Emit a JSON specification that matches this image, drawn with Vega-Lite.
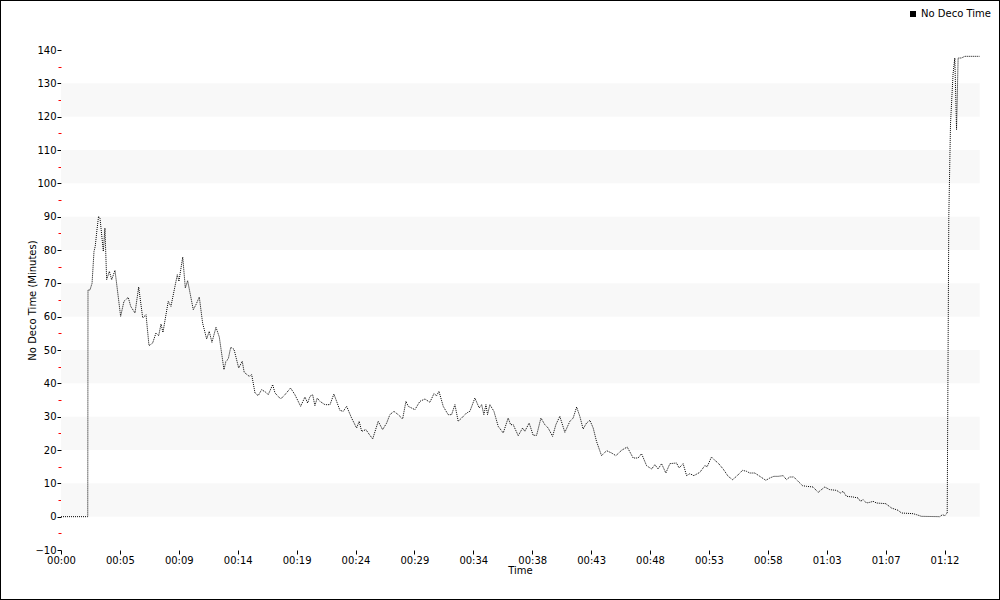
{
  "$schema": "https://vega.github.io/schema/vega-lite/v6.json",
  "width": 1000,
  "height": 600,
  "autosize": "none",
  "padding": 0,
  "background": "white",
  "config": {
    "view": {"stroke": "black", "strokeWidth": 2},
    "font": "DejaVu Sans",
    "axis": {"labelFont": "DejaVu Sans", "titleFont": "DejaVu Sans", "labelFontSize": 10, "titleFontSize": 10, "titleFontWeight": "normal", "labelColor": "black", "titleColor": "black"}
  },
  "resolve": {"axis": {"y": "independent"}},
  "datasets": {
    "ndl": [
      {"minutes": 0, "ndl": 0}, {"minutes": 2.18, "ndl": 0}, {"minutes": 2.2, "ndl": 68}, {"minutes": 2.36, "ndl": 68},
      {"minutes": 2.53, "ndl": 70}, {"minutes": 2.69, "ndl": 79.6}, {"minutes": 2.79, "ndl": 81.1}, {"minutes": 2.93, "ndl": 86},
      {"minutes": 3.06, "ndl": 90.1}, {"minutes": 3.18, "ndl": 89.5}, {"minutes": 3.45, "ndl": 79.6}, {"minutes": 3.58, "ndl": 86.6},
      {"minutes": 3.72, "ndl": 71.1}, {"minutes": 3.94, "ndl": 73.6}, {"minutes": 4.13, "ndl": 71.1}, {"minutes": 4.4, "ndl": 73.9},
      {"minutes": 4.86, "ndl": 60.1}, {"minutes": 5.13, "ndl": 64.6}, {"minutes": 5.48, "ndl": 65.8}, {"minutes": 5.68, "ndl": 63.1},
      {"minutes": 6.03, "ndl": 61.1}, {"minutes": 6.33, "ndl": 68.9}, {"minutes": 6.66, "ndl": 59.6}, {"minutes": 6.93, "ndl": 60.6},
      {"minutes": 7.17, "ndl": 51.3}, {"minutes": 7.47, "ndl": 52.1}, {"minutes": 7.74, "ndl": 55.1}, {"minutes": 7.96, "ndl": 54.3},
      {"minutes": 8.15, "ndl": 57.8}, {"minutes": 8.31, "ndl": 55.3}, {"minutes": 8.74, "ndl": 64.6}, {"minutes": 8.96, "ndl": 63.1},
      {"minutes": 9.48, "ndl": 72.6}, {"minutes": 9.61, "ndl": 70.6}, {"minutes": 9.92, "ndl": 77.9}, {"minutes": 10.13, "ndl": 68.6},
      {"minutes": 10.32, "ndl": 70.8}, {"minutes": 10.78, "ndl": 62.1}, {"minutes": 11.0, "ndl": 63.6}, {"minutes": 11.27, "ndl": 65.9},
      {"minutes": 11.54, "ndl": 58.1}, {"minutes": 11.87, "ndl": 53.3}, {"minutes": 12.08, "ndl": 55.6}, {"minutes": 12.3, "ndl": 52.3},
      {"minutes": 12.63, "ndl": 56.8}, {"minutes": 12.9, "ndl": 53.9}, {"minutes": 13.28, "ndl": 44.1}, {"minutes": 13.44, "ndl": 46.6},
      {"minutes": 13.63, "ndl": 47.3}, {"minutes": 13.83, "ndl": 50.8}, {"minutes": 14.1, "ndl": 50.2}, {"minutes": 14.48, "ndl": 44.6},
      {"minutes": 14.77, "ndl": 46.6}, {"minutes": 14.93, "ndl": 43.3}, {"minutes": 15.34, "ndl": 42.1}, {"minutes": 15.54, "ndl": 42.6},
      {"minutes": 15.81, "ndl": 37.1}, {"minutes": 16.07, "ndl": 36.3}, {"minutes": 16.35, "ndl": 38.1}, {"minutes": 16.7, "ndl": 37.3},
      {"minutes": 16.89, "ndl": 36.6}, {"minutes": 17.25, "ndl": 39.6}, {"minutes": 17.44, "ndl": 37.1}, {"minutes": 17.9, "ndl": 35.3},
      {"minutes": 18.25, "ndl": 36.6}, {"minutes": 18.71, "ndl": 38.6}, {"minutes": 19.06, "ndl": 36.6}, {"minutes": 19.53, "ndl": 33.1},
      {"minutes": 19.88, "ndl": 35.9}, {"minutes": 20.1, "ndl": 34.1}, {"minutes": 20.29, "ndl": 36.1}, {"minutes": 20.51, "ndl": 36.6},
      {"minutes": 20.69, "ndl": 33.3}, {"minutes": 20.88, "ndl": 35.6}, {"minutes": 21.1, "ndl": 34.6}, {"minutes": 21.51, "ndl": 33.6},
      {"minutes": 21.92, "ndl": 33.6}, {"minutes": 22.24, "ndl": 36.8}, {"minutes": 22.73, "ndl": 31.9}, {"minutes": 23.0, "ndl": 31.6},
      {"minutes": 23.28, "ndl": 33.1}, {"minutes": 23.68, "ndl": 29.6}, {"minutes": 24.09, "ndl": 26.6}, {"minutes": 24.3, "ndl": 28.6},
      {"minutes": 24.5, "ndl": 25.6}, {"minutes": 24.85, "ndl": 26.1}, {"minutes": 25.04, "ndl": 25.1}, {"minutes": 25.4, "ndl": 23.3},
      {"minutes": 25.85, "ndl": 28.6}, {"minutes": 26.21, "ndl": 26.1}, {"minutes": 26.54, "ndl": 28.1}, {"minutes": 26.8, "ndl": 30.6},
      {"minutes": 27.13, "ndl": 31.6}, {"minutes": 27.48, "ndl": 30.6}, {"minutes": 27.84, "ndl": 29.3}, {"minutes": 28.11, "ndl": 34.6},
      {"minutes": 28.3, "ndl": 33.1}, {"minutes": 28.84, "ndl": 32.1}, {"minutes": 29.25, "ndl": 34.6}, {"minutes": 29.66, "ndl": 35.3},
      {"minutes": 30.06, "ndl": 34.3}, {"minutes": 30.39, "ndl": 36.9}, {"minutes": 30.61, "ndl": 36.3}, {"minutes": 30.8, "ndl": 37.6},
      {"minutes": 31.15, "ndl": 33.1}, {"minutes": 31.55, "ndl": 30.6}, {"minutes": 31.83, "ndl": 30.6}, {"minutes": 32.1, "ndl": 33.6},
      {"minutes": 32.37, "ndl": 28.6}, {"minutes": 32.65, "ndl": 29.6}, {"minutes": 33.05, "ndl": 31.1}, {"minutes": 33.32, "ndl": 31.6},
      {"minutes": 33.73, "ndl": 35.6}, {"minutes": 34.08, "ndl": 32.6}, {"minutes": 34.28, "ndl": 33.6}, {"minutes": 34.46, "ndl": 30.6},
      {"minutes": 34.63, "ndl": 33.6}, {"minutes": 34.76, "ndl": 30.6}, {"minutes": 34.95, "ndl": 33.6}, {"minutes": 35.28, "ndl": 31.6},
      {"minutes": 35.63, "ndl": 27.1}, {"minutes": 36.04, "ndl": 25.1}, {"minutes": 36.44, "ndl": 29.6}, {"minutes": 36.64, "ndl": 27.6},
      {"minutes": 36.85, "ndl": 27.6}, {"minutes": 37.26, "ndl": 24.3}, {"minutes": 37.62, "ndl": 26.6}, {"minutes": 37.8, "ndl": 25.6},
      {"minutes": 38.15, "ndl": 28.1}, {"minutes": 38.48, "ndl": 24.4}, {"minutes": 38.76, "ndl": 24.4}, {"minutes": 39.11, "ndl": 29.6},
      {"minutes": 39.43, "ndl": 27.6}, {"minutes": 39.7, "ndl": 26.6}, {"minutes": 40.06, "ndl": 24.1}, {"minutes": 40.33, "ndl": 27.6},
      {"minutes": 40.65, "ndl": 30.1}, {"minutes": 41.06, "ndl": 25.3}, {"minutes": 41.47, "ndl": 28.6}, {"minutes": 41.74, "ndl": 29.6},
      {"minutes": 42.02, "ndl": 32.9}, {"minutes": 42.28, "ndl": 30.1}, {"minutes": 42.55, "ndl": 26.3}, {"minutes": 42.83, "ndl": 28.1},
      {"minutes": 43.1, "ndl": 28.9}, {"minutes": 43.37, "ndl": 26.6}, {"minutes": 43.64, "ndl": 22.6}, {"minutes": 44.05, "ndl": 18.3},
      {"minutes": 44.46, "ndl": 19.8}, {"minutes": 44.87, "ndl": 19.1}, {"minutes": 45.22, "ndl": 18.3}, {"minutes": 45.68, "ndl": 19.9},
      {"minutes": 46.14, "ndl": 20.9}, {"minutes": 46.63, "ndl": 17.6}, {"minutes": 47.03, "ndl": 17.6}, {"minutes": 47.31, "ndl": 18.9},
      {"minutes": 47.72, "ndl": 15.3}, {"minutes": 48.13, "ndl": 14.3}, {"minutes": 48.4, "ndl": 15.6}, {"minutes": 48.66, "ndl": 14.3},
      {"minutes": 48.94, "ndl": 15.9}, {"minutes": 49.29, "ndl": 13.1}, {"minutes": 49.62, "ndl": 15.9}, {"minutes": 50.16, "ndl": 16.1},
      {"minutes": 50.37, "ndl": 14.6}, {"minutes": 50.7, "ndl": 15.9}, {"minutes": 50.98, "ndl": 12.3}, {"minutes": 51.25, "ndl": 12.9},
      {"minutes": 51.57, "ndl": 12.3}, {"minutes": 52.06, "ndl": 13.3}, {"minutes": 52.47, "ndl": 15.3}, {"minutes": 52.66, "ndl": 15.0},
      {"minutes": 53.01, "ndl": 17.9}, {"minutes": 53.28, "ndl": 16.9}, {"minutes": 53.55, "ndl": 16.1}, {"minutes": 53.96, "ndl": 14.3},
      {"minutes": 54.37, "ndl": 12.1}, {"minutes": 54.73, "ndl": 11.1}, {"minutes": 55.05, "ndl": 12.1}, {"minutes": 55.54, "ndl": 13.9},
      {"minutes": 55.87, "ndl": 13.6}, {"minutes": 56.13, "ndl": 13.1}, {"minutes": 56.54, "ndl": 13.1}, {"minutes": 56.95, "ndl": 12.1},
      {"minutes": 57.44, "ndl": 10.9}, {"minutes": 57.76, "ndl": 11.6}, {"minutes": 58.09, "ndl": 12.1}, {"minutes": 58.44, "ndl": 12.1},
      {"minutes": 58.85, "ndl": 12.3}, {"minutes": 59.12, "ndl": 11.1}, {"minutes": 59.39, "ndl": 11.9}, {"minutes": 59.72, "ndl": 11.9},
      {"minutes": 60.07, "ndl": 10.6}, {"minutes": 60.43, "ndl": 9.3}, {"minutes": 60.75, "ndl": 9.1}, {"minutes": 61.29, "ndl": 8.9},
      {"minutes": 61.7, "ndl": 7.3}, {"minutes": 62.24, "ndl": 8.9}, {"minutes": 62.65, "ndl": 8.1}, {"minutes": 63.2, "ndl": 7.9},
      {"minutes": 63.52, "ndl": 7.1}, {"minutes": 63.74, "ndl": 7.6}, {"minutes": 64.01, "ndl": 6.1}, {"minutes": 64.55, "ndl": 5.9},
      {"minutes": 64.96, "ndl": 5.6}, {"minutes": 65.15, "ndl": 4.6}, {"minutes": 65.37, "ndl": 5.1}, {"minutes": 65.64, "ndl": 4.1},
      {"minutes": 65.91, "ndl": 4.3}, {"minutes": 66.18, "ndl": 4.6}, {"minutes": 66.46, "ndl": 4.1}, {"minutes": 67.21, "ndl": 3.9},
      {"minutes": 67.68, "ndl": 2.6}, {"minutes": 68.22, "ndl": 1.9}, {"minutes": 68.49, "ndl": 1.1}, {"minutes": 69.44, "ndl": 0.9},
      {"minutes": 69.72, "ndl": 0.6}, {"minutes": 70.12, "ndl": 0.1}, {"minutes": 71.62, "ndl": 0}, {"minutes": 71.83, "ndl": 0.6},
      {"minutes": 72.02, "ndl": 0.3}, {"minutes": 72.16, "ndl": 0.9}, {"minutes": 72.22, "ndl": 1}, {"minutes": 72.35, "ndl": 90},
      {"minutes": 72.49, "ndl": 118}, {"minutes": 72.7, "ndl": 133}, {"minutes": 72.84, "ndl": 137.6}, {"minutes": 72.98, "ndl": 116.1},
      {"minutes": 73.11, "ndl": 137.6}, {"minutes": 73.38, "ndl": 137.6}, {"minutes": 73.65, "ndl": 138.1}, {"minutes": 74.87, "ndl": 138.1}
    ],
    "bands": [
      {"lo": 0, "hi": 10}, {"lo": 20, "hi": 30}, {"lo": 40, "hi": 50}, {"lo": 60, "hi": 70},
      {"lo": 80, "hi": 90}, {"lo": 100, "hi": 110}, {"lo": 120, "hi": 130}
    ]
  },
  "layer": [
    {
      "data": {"name": "bands"},
      "mark": {"type": "rect", "color": "#f8f8f8"},
      "encoding": {
        "x": {"datum": 0, "type": "quantitative"},
        "x2": {"datum": 74.87},
        "y": {
          "field": "lo", "type": "quantitative",
          "axis": {
            "orient": "left", "offset": -61, "domain": false, "grid": false, "labels": false, "title": null,
            "values": [-5, 5, 15, 25, 35, 45, 55, 65, 75, 85, 95, 105, 115, 125, 135],
            "tickColor": "red", "tickSize": 3
          }
        },
        "y2": {"field": "hi"}
      }
    },
    {
      "data": {"name": "ndl"},
      "mark": {"type": "line", "strokeWidth": 1, "strokeDash": [1, 1], "interpolate": "linear"},
      "encoding": {
        "x": {
          "field": "minutes", "type": "quantitative",
          "scale": {"domain": [-4.971, 76.522], "nice": false, "zero": false},
          "axis": {
            "orient": "bottom", "offset": -50, "domain": false, "grid": false,
            "values": [0, 4.8, 9.6, 14.4, 19.2, 24, 28.8, 33.6, 38.4, 43.2, 48, 52.8, 57.6, 62.4, 67.2, 72],
            "labelExpr": "['00:00','00:05','00:09','00:14','00:19','00:24','00:29','00:34','00:38','00:43','00:48','00:53','00:58','01:03','01:07','01:12'][round(datum.value/4.8)]",
            "labelFlush": false, "labelOverlap": false, "labelPadding": 1,
            "tickColor": "black", "tickSize": 4,
            "title": "Time", "titlePadding": 0, "titleX": 520
          }
        },
        "y": {
          "field": "ndl", "type": "quantitative",
          "scale": {"domain": [-25, 155], "nice": false, "zero": false},
          "axis": {
            "orient": "left", "offset": -61, "domain": false, "grid": false,
            "values": [-10, 0, 10, 20, 30, 40, 50, 60, 70, 80, 90, 100, 110, 120, 130, 140],
            "labelOverlap": false, "labelPadding": 1, "labelFlush": false,
            "tickColor": "black", "tickSize": 4,
            "title": "No Deco Time (Minutes)", "titleX": -29, "titleY": 300, "titleBaseline": "middle"
          }
        },
        "color": {
          "datum": "No Deco Time",
          "scale": {"range": ["black"]},
          "legend": {
            "title": null, "orient": "none", "legendX": 908, "legendY": 9,
            "symbolType": "square", "symbolSize": 36, "symbolFillColor": "black", "symbolStrokeColor": "black",
            "symbolStrokeWidth": 0, "symbolDash": [], "labelFontSize": 10, "labelFont": "DejaVu Sans", "labelColor": "black", "labelOffset": 3, "padding": 0
          }
        }
      }
    },
    {
      "mark": {"type": "rule", "color": "black", "strokeWidth": 1},
      "encoding": {
        "x": {"datum": 0, "type": "quantitative"},
        "x2": {"datum": 74.87},
        "y": {"datum": -10, "type": "quantitative", "axis": null}
      }
    },
    {
      "mark": {"type": "rule", "color": "black", "strokeWidth": 1},
      "encoding": {
        "x": {"datum": 0, "type": "quantitative"},
        "y": {"datum": -10, "type": "quantitative", "axis": null},
        "y2": {"datum": 140}
      }
    }
  ]
}
